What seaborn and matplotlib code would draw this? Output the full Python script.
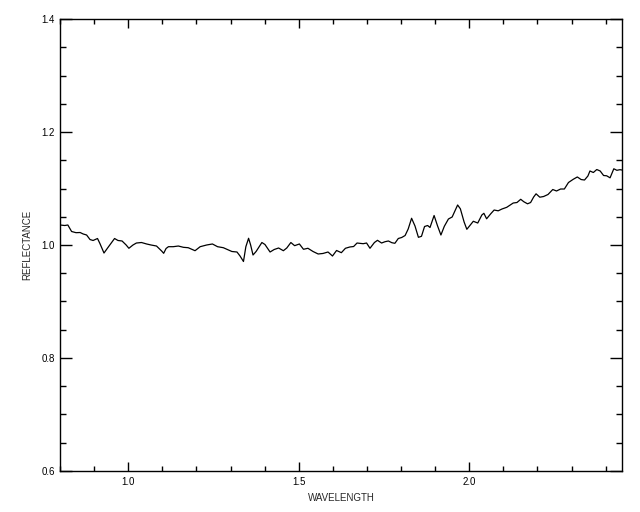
import matplotlib
matplotlib.use("Agg")
import numpy as np
import pandas as pd
import seaborn as sns
import matplotlib.pyplot as plt
from matplotlib.ticker import MultipleLocator, FixedLocator

wavelength = [
    0.800, 0.814, 0.823, 0.834, 0.847, 0.859, 0.868, 0.878, 0.888, 0.897,
    0.910, 0.917, 0.929, 0.941, 0.960, 0.970, 0.982, 0.994, 1.002, 1.014,
    1.024, 1.039, 1.054, 1.067, 1.083, 1.098, 1.104, 1.111, 1.118, 1.132,
    1.147, 1.162, 1.176, 1.196, 1.211, 1.230, 1.247, 1.262, 1.279, 1.294,
    1.304, 1.319, 1.328, 1.338, 1.345, 1.353, 1.359, 1.366, 1.375, 1.392,
    1.401, 1.416, 1.428, 1.441, 1.455, 1.465, 1.477, 1.488, 1.502, 1.514,
    1.527, 1.542, 1.557, 1.571, 1.586, 1.599, 1.611, 1.625, 1.637, 1.650,
    1.661, 1.671, 1.689, 1.699, 1.709, 1.722, 1.731, 1.743, 1.753, 1.763,
    1.773, 1.782, 1.792, 1.802, 1.812, 1.821, 1.831, 1.841, 1.851, 1.860,
    1.869, 1.878, 1.885, 1.897, 1.907, 1.917, 1.927, 1.939, 1.950, 1.957,
    1.966, 1.974, 1.985, 1.993, 2.003, 2.012, 2.025, 2.037, 2.043, 2.051,
    2.063, 2.073, 2.085, 2.096, 2.110, 2.120, 2.129, 2.140, 2.151, 2.160,
    2.171, 2.180, 2.189, 2.196, 2.207, 2.218, 2.231, 2.245, 2.256, 2.268,
    2.279, 2.291, 2.305, 2.317, 2.328, 2.338, 2.348, 2.354, 2.364, 2.374,
    2.384, 2.394, 2.403, 2.413, 2.424, 2.433, 2.442, 2.448,
]

reflectance = [
    1.0354, 1.0345, 1.0354, 1.0239, 1.0218, 1.0221, 1.0195, 1.0177, 1.0097, 1.0080,
    1.0115, 1.0027, 0.9858, 0.9959, 1.0115, 1.0080, 1.0071, 1.0000, 0.9942, 1.0000,
    1.0035, 1.0044, 1.0018, 1.0000, 0.9982, 0.9894, 0.9853, 0.9938, 0.9970, 0.9970,
    0.9982, 0.9959, 0.9952, 0.9899, 0.9970, 1.0000, 1.0018, 0.9970, 0.9952, 0.9912,
    0.9885, 0.9876, 0.9805, 0.9708, 0.9970, 1.0119, 1.0000, 0.9823, 0.9885, 1.0044,
    1.0009, 0.9876, 0.9920, 0.9947, 0.9899, 0.9947, 1.0044, 0.9988, 1.0018, 0.9924,
    0.9942, 0.9885, 0.9841, 0.9850, 0.9876, 0.9805, 0.9903, 0.9864, 0.9942, 0.9965,
    0.9973, 1.0035, 1.0023, 1.0035, 0.9942, 1.0044, 1.0083, 1.0035, 1.0058, 1.0071,
    1.0041, 1.0030, 1.0115, 1.0133, 1.0168, 1.0283, 1.0473, 1.0336, 1.0136, 1.0154,
    1.0327, 1.0345, 1.0310, 1.0522, 1.0340, 1.0177, 1.0331, 1.0460, 1.0496, 1.0589,
    1.0708, 1.0641, 1.0407, 1.0278, 1.0354, 1.0420, 1.0389, 1.0531, 1.0561, 1.0464,
    1.0552, 1.0619, 1.0605, 1.0637, 1.0667, 1.0708, 1.0743, 1.0752, 1.0809, 1.0766,
    1.0729, 1.0752, 1.0850, 1.0906, 1.0846, 1.0858, 1.0894, 1.0982, 1.0956, 1.0991,
    1.0991, 1.1106, 1.1163, 1.1204, 1.1159, 1.1150, 1.1221, 1.1310, 1.1283, 1.1336,
    1.1310, 1.1230, 1.1225, 1.1189, 1.1349, 1.1322, 1.1333, 1.1327,
]

x_ticks = [1.0, 1.5, 2.0]
x_tick_labels = ["1.0", "1.5", "2.0"]
y_ticks = [0.6, 0.8, 1.0, 1.2, 1.4]
y_tick_labels = ["0.6", "0.8", "1.0", "1.2", "1.4"]
x_label = "WAVELENGTH"
y_label = "REFLECTANCE"

sns.set_theme(style="ticks")
plt.rcParams['font.family'] = ['Liberation Sans', 'DejaVu Sans']

fig = plt.figure(figsize=(6.4, 5.12), dpi=100)
fig.patch.set_facecolor("white")
ax = fig.add_axes([60 / 640, 41 / 512, 562 / 640, 452 / 512])
ax.set_facecolor("white")

df = pd.DataFrame({"wavelength": wavelength, "reflectance": reflectance})
sns.lineplot(data=df, x="wavelength", y="reflectance", ax=ax,
             color="black", linewidth=0.9, sort=False, estimator=None)

ax.set_xlim(0.8, 2.448)
ax.set_ylim(0.6, 1.4)

ax.xaxis.set_major_locator(FixedLocator(x_ticks))
ax.set_xticklabels(x_tick_labels)
ax.xaxis.set_minor_locator(MultipleLocator(0.1))
ax.yaxis.set_major_locator(FixedLocator(y_ticks))
ax.set_yticklabels(y_tick_labels)
ax.yaxis.set_minor_locator(MultipleLocator(0.05))

for s in ax.spines.values():
    s.set_visible(True)
    s.set_color("black")
    s.set_linewidth(1.0)

ax.tick_params(axis="both", which="both", direction="in", top=True, right=True,
               colors="black", width=1.0, labelsize=7)
ax.tick_params(axis="x", which="major", length=6.5, pad=4.5)
ax.tick_params(axis="x", which="minor", length=3.6)
ax.tick_params(axis="y", which="major", length=8.5, pad=3.5)
ax.tick_params(axis="y", which="minor", length=4.0)

ax.set_xlabel(x_label, fontsize=7, labelpad=4)
ax.set_ylabel(y_label, fontsize=7, labelpad=7)

fig.savefig("out.png", dpi=100, facecolor="white")
